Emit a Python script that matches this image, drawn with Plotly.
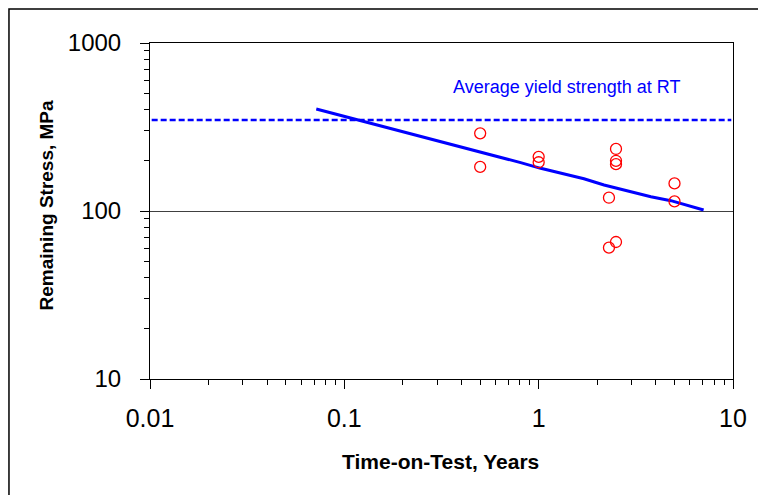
import plotly.graph_objects as go

# Measured data points (Time-on-Test in years, remaining stress in MPa)
obs_years = [0.5, 0.5, 1.0, 1.0, 2.5, 2.5, 2.5, 2.3, 2.5, 2.3, 5.0, 5.0]
obs_stress = [290, 183, 210, 195, 234, 199, 190, 120, 65.4, 60.5, 146, 114]

# Predicted curve
curve_years = [0.0717, 0.1, 0.15, 0.2, 0.278, 0.404, 0.502, 0.612, 0.808, 1.024,
               1.30, 1.58, 1.71, 2.17, 2.55, 3.10, 3.78, 4.79, 5.61, 7.06]
curve_stress = [405, 366, 324, 297, 268, 241.5, 225.5, 212, 194, 179.5,
                167.6, 157.8, 155.6, 142.8, 136.5, 128.5, 121.6, 115.2, 109.6, 101.4]

# Average yield strength at room temperature
yield_years = [0.0102, 9.8]
yield_stress = [348, 348]

x_tickvals = [0.01, 0.1, 1, 10]
x_ticktext = ["0.01", "0.1", "1", "10"]
y_tickvals = [10, 100, 1000]
y_ticktext = ["10", "100", "1000"]
x_minor = [0.02, 0.03, 0.04, 0.05, 0.06, 0.07, 0.08, 0.09,
           0.2, 0.3, 0.4, 0.5, 0.6, 0.7, 0.8, 0.9,
           2, 3, 4, 5, 6, 7, 8, 9]
y_minor = [20, 30, 40, 50, 60, 70, 80, 90,
           200, 300, 400, 500, 600, 700, 800, 900]

fig = go.Figure()
fig.add_trace(go.Scatter(x=yield_years, y=yield_stress, mode="lines",
                         line=dict(color="#0000ff", width=2.5, dash="6px,3px"),
                         showlegend=False, hoverinfo="skip"))
fig.add_trace(go.Scatter(x=curve_years, y=curve_stress, mode="lines",
                         line=dict(color="#0000ff", width=3),
                         showlegend=False))
fig.add_trace(go.Scatter(x=obs_years, y=obs_stress, mode="markers",
                         marker=dict(symbol="circle-open", size=11,
                                     color="#ff0000", line=dict(width=1.3, color="#ff0000")),
                         showlegend=False))

font_family = "Liberation Sans, Arial, sans-serif"

fig.update_layout(
    width=766, height=495,
    margin=dict(l=142, r=41, t=35, b=124),
    paper_bgcolor="white", plot_bgcolor="white",
    font=dict(family=font_family, color="black"),
    showlegend=False,
)
fig.update_xaxes(
    type="log", range=[-2, 1],
    tickvals=x_tickvals, ticktext=x_ticktext,
    tickfont=dict(size=25, family=font_family, color="black"),
    ticks="outside", ticklen=9, tickcolor="black", tickwidth=1,
    ticklabelstandoff=8,
    minor=dict(tickvals=x_minor, ticks="outside", ticklen=5, tickcolor="black",
               tickwidth=1, showgrid=False),
    showline=True, linecolor="black", linewidth=1, mirror=True,
    showgrid=False, zeroline=False,
)
fig.update_yaxes(
    type="log", range=[1, 3],
    tickvals=y_tickvals, ticktext=y_ticktext,
    tickfont=dict(size=24, family=font_family, color="black"),
    ticks="outside", ticklen=9, tickcolor="black", tickwidth=1,
    ticklabelstandoff=14,
    minor=dict(tickvals=y_minor, ticks="outside", ticklen=5, tickcolor="black",
               tickwidth=1, showgrid=False),
    showline=True, linecolor="black", linewidth=1, mirror=True,
    showgrid=True, gridcolor="#404040", gridwidth=1, zeroline=False,
)

fig.add_annotation(text="Average yield strength at RT", x=0.715, y=0.869,
                   xref="paper", yref="paper", showarrow=False,
                   xanchor="center", yanchor="middle",
                   font=dict(size=18, color="#0000ff", family=font_family))
fig.add_annotation(text="<b>Time-on-Test, Years</b>", x=0.499, y=-0.247,
                   xref="paper", yref="paper", showarrow=False,
                   xanchor="center", yanchor="middle",
                   font=dict(size=21, color="black", family=font_family))
fig.add_annotation(text="<b>Remaining Stress, MPa</b>", x=-0.178, y=0.517,
                   xref="paper", yref="paper", showarrow=False, textangle=-90,
                   xanchor="center", yanchor="middle",
                   font=dict(size=19, color="black", family=font_family))

# outer frame (top and left edges visible)
fig.add_shape(type="rect", xref="paper", yref="paper",
              x0=-0.2419, x1=1.2, y0=-0.6, y1=1.101,
              line=dict(color="black", width=1.5), fillcolor="rgba(0,0,0,0)")

fig.write_html("out.html")
